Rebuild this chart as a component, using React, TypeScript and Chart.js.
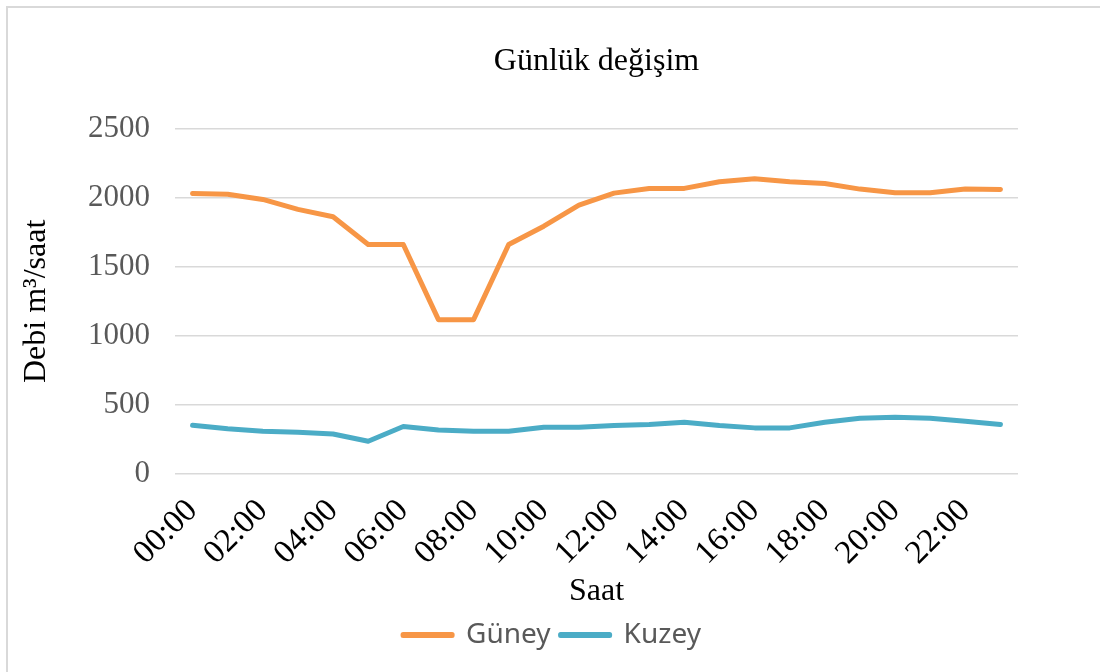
import React, { useEffect, useRef } from "react";
import { Chart, registerables } from "chart.js";

Chart.register(...registerables);

const hours: string[] = [
  "00:00", "01:00", "02:00", "03:00", "04:00", "05:00", "06:00", "07:00",
  "08:00", "09:00", "10:00", "11:00", "12:00", "13:00", "14:00", "15:00",
  "16:00", "17:00", "18:00", "19:00", "20:00", "21:00", "22:00", "23:00",
];

const guney: number[] = [
  2033, 2027, 1989, 1917, 1863, 1662, 1662, 1117, 1117, 1662, 1795, 1948,
  2035, 2069, 2069, 2117, 2139, 2117, 2105, 2064, 2037, 2037, 2064, 2061,
];

const kuzey: number[] = [
  351, 325, 308, 300, 288, 235, 342, 317, 308, 308, 337, 337,
  350, 356, 373, 349, 332, 332, 373, 402, 409, 402, 380, 356,
];

const seriesNames: string[] = ["Güney", "Kuzey"];
const chartTitle = "Günlük değişim";
const xTitle = "Saat";
const yTitle = "Debi m³/saat";
const yMin = 0;
const yMax = 2500;
const yStep = 500;

const SERIF = "'Liberation Serif', 'Times New Roman', serif";
const SANS = "'Noto Sans', 'Liberation Sans', sans-serif";

export default function App() {
  const canvasRef = useRef<HTMLCanvasElement | null>(null);

  useEffect(() => {
    if (!canvasRef.current) return;
    const chart = new Chart(canvasRef.current, {
      type: "line",
      data: {
        labels: hours,
        datasets: [
          {
            label: seriesNames[0],
            data: guney,
            borderColor: "#f79646",
            backgroundColor: "#f79646",
            borderWidth: 5,
            pointRadius: 0,
            borderCapStyle: "round",
            borderJoinStyle: "round",
            tension: 0,
          },
          {
            label: seriesNames[1],
            data: kuzey,
            borderColor: "#4bacc6",
            backgroundColor: "#4bacc6",
            borderWidth: 5,
            pointRadius: 0,
            borderCapStyle: "round",
            borderJoinStyle: "round",
            tension: 0,
          },
        ],
      },
      options: {
        responsive: false,
        animation: false,
        layout: { padding: { left: 86, right: 82, top: 0, bottom: 13 } },
        plugins: {
          title: {
            display: true,
            text: chartTitle,
            fullSize: false,
            color: "#000000",
            font: { family: SERIF, size: 32, weight: "normal" },
            padding: { top: 42.8, bottom: 47.8 },
          },
          legend: {
            position: "bottom",
            labels: {
              color: "#595959",
              font: { family: SANS, size: 28 },
              boxWidth: 49,
              boxHeight: 1,
              padding: 10,
            },
          },
          tooltip: { enabled: false },
        },
        scales: {
          x: {
            offset: true,
            grid: { display: false, drawTicks: false },
            border: { display: false },
            ticks: {
              autoSkip: false,
              maxRotation: 45,
              minRotation: 45,
              padding: 18,
              color: "#000000",
              font: { family: SERIF, size: 33 },
              callback: (_v: any, i: number) => (i % 2 === 0 ? hours[i] : ""),
            },
            title: {
              display: true,
              text: xTitle,
              color: "#000000",
              font: { family: SERIF, size: 32 },
              padding: { top: -18.2, bottom: 0 },
            },
          },
          y: {
            min: yMin,
            max: yMax,
            ticks: {
              stepSize: yStep,
              padding: 25,
              color: "#595959",
              font: { family: SERIF, size: 31 },
              callback: (v: any) => String(v),
            },
            grid: { color: "#d9d9d9", lineWidth: 1.5, drawTicks: false },
            border: { display: false },
            title: {
              display: true,
              text: yTitle,
              color: "#000000",
              font: { family: SERIF, size: 32 },
              padding: { top: -68.2, bottom: 6.8 },
            },
          },
        },
      },
    });
    return () => chart.destroy();
  }, []);

  return (
    <div
      style={{
        position: "fixed",
        left: 0,
        top: 0,
        width: 1100,
        height: 672,
        overflow: "hidden",
        background: "#ffffff",
      }}
    >
      <div
        style={{
          position: "absolute",
          left: 6,
          top: 6,
          width: 1100,
          height: 672,
          border: "2px solid #d9d9d9",
          boxSizing: "border-box",
        }}
      />
      <canvas
        ref={canvasRef}
        width={1100}
        height={672}
        style={{ position: "absolute", left: 0, top: 0, width: 1100, height: 672 }}
      />
    </div>
  );
}
